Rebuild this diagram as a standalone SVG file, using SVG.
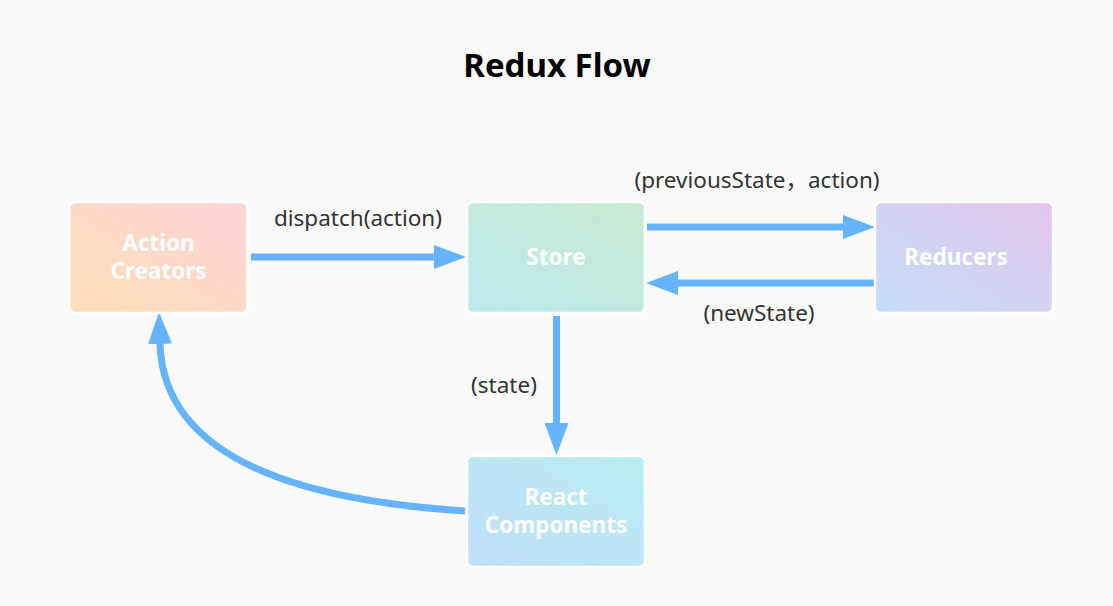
<svg xmlns="http://www.w3.org/2000/svg" width="1113" height="606" viewBox="0 0 1113 606">
<style>
.bg{fill:#fafafa}
.title{font-family:"Noto Sans","Open Sans",sans-serif;font-weight:bold;font-size:33px;fill:#000;text-anchor:middle}
.lbl{font-family:"Noto Sans","Noto Sans CJK SC",sans-serif;font-size:22.5px;fill:#333;text-anchor:middle}
.box{stroke:#fff;stroke-width:2.5}
.ntxt{font-family:"Noto Sans","Open Sans",sans-serif;font-weight:bold;font-size:22.5px;fill:#fff;text-anchor:middle}
.edge{fill:none;stroke:#66b3ff;stroke-width:7}
</style>
<defs>
<linearGradient id="gA" x1="0" y1="1" x2="1" y2="0"><stop offset="0" stop-color="#ffdfb8"/><stop offset="1" stop-color="#ffd3d7"/></linearGradient>
<linearGradient id="gS" x1="0" y1="1" x2="1" y2="0"><stop offset="0" stop-color="#bcecef"/><stop offset="1" stop-color="#c9e8d0"/></linearGradient>
<linearGradient id="gR" x1="0" y1="1" x2="1" y2="0"><stop offset="0" stop-color="#c4ddf8"/><stop offset="1" stop-color="#e3c6ea"/></linearGradient>
<linearGradient id="gC" x1="0" y1="1" x2="1" y2="0"><stop offset="0" stop-color="#bfdff8"/><stop offset="1" stop-color="#b9edf2"/></linearGradient>
<marker id="ah" markerUnits="userSpaceOnUse" markerWidth="32" markerHeight="24" refX="0" refY="12" orient="auto" viewBox="0 0 32 24">
<polygon points="0,0 32,12 0,24" fill="#66b3ff"/>
</marker>
</defs>
<rect class="bg" width="1113" height="606"/>
<text class="title" x="557" y="77">Redux Flow</text>
<g id="connectors">
<line class="edge" x1="251" y1="257" x2="434" y2="257" marker-end="url(#ah)"/>
<line class="edge" x1="647" y1="227" x2="843" y2="227" marker-end="url(#ah)"/>
<line class="edge" x1="874" y1="283" x2="678" y2="283" marker-end="url(#ah)"/>
<line class="edge" x1="556.5" y1="316" x2="556.5" y2="423" marker-end="url(#ah)"/>
<path class="edge" d="M465,511 Q165,492 160,344" marker-end="url(#ah)"/>
<text class="lbl" x="358" y="226">dispatch(action)</text>
<text class="lbl" x="757" y="188">(previousState，action)</text>
<text class="lbl" x="759" y="321">(newState)</text>
<text class="lbl" x="504" y="393">(state)</text>
</g>
<g id="action-creators">
<rect class="box" x="69.5" y="202" width="178" height="111" rx="6" fill="url(#gA)"/>
<text class="ntxt" x="158.5" y="251">Action</text>
<text class="ntxt" x="158.5" y="279">Creators</text>
</g>
<g id="store">
<rect class="box" x="467" y="202" width="178" height="111" rx="6" fill="url(#gS)"/>
<text class="ntxt" x="556" y="265">Store</text>
</g>
<g id="reducers">
<rect class="box" x="875" y="202" width="178" height="111" rx="6" fill="url(#gR)"/>
<text class="ntxt" x="956" y="265">Reducers</text>
</g>
<g id="react-components">
<rect class="box" x="467" y="456" width="178" height="111" rx="6" fill="url(#gC)"/>
<text class="ntxt" x="556" y="505">React</text>
<text class="ntxt" x="556" y="533">Components</text>
</g>
</svg>
